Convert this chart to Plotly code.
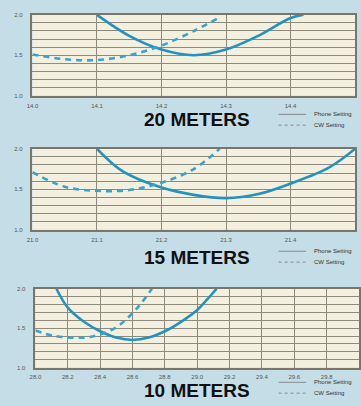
import plotly.graph_objects as go

# ---------------- data ----------------
m20_phone_x = [14.10, 14.15, 14.20, 14.25, 14.30, 14.35, 14.40, 14.42]
m20_phone_y = [2.00, 1.74, 1.57, 1.50, 1.57, 1.74, 1.96, 2.00]
m20_cw_x = [14.00, 14.05, 14.10, 14.15, 14.20, 14.25, 14.29]
m20_cw_y = [1.51, 1.45, 1.44, 1.50, 1.62, 1.80, 1.97]
m20_ticks = [14.0, 14.1, 14.2, 14.3, 14.4, 14.5]
m20_ticktext = ["14.0", "14.1", "14.2", "14.3", "14.4", "14.5"]

m15_phone_x = [21.10, 21.14, 21.20, 21.25, 21.30, 21.35, 21.40, 21.46, 21.50]
m15_phone_y = [2.00, 1.72, 1.52, 1.43, 1.39, 1.44, 1.57, 1.77, 2.00]
m15_cw_x = [21.00, 21.05, 21.10, 21.15, 21.20, 21.25, 21.29]
m15_cw_y = [1.71, 1.53, 1.48, 1.49, 1.58, 1.75, 2.00]
m15_ticks = [21.0, 21.1, 21.2, 21.3, 21.4, 21.5]
m15_ticktext = ["21.0", "21.1", "21.2", "21.3", "21.4", "21.5"]

m10_phone_x = [28.13, 28.20, 28.30, 28.40, 28.50, 28.60, 28.70, 28.80, 28.90, 29.00, 29.06, 29.12]
m10_phone_y = [2.00, 1.76, 1.58, 1.46, 1.38, 1.35, 1.38, 1.46, 1.58, 1.73, 1.86, 2.00]
m10_cw_x = [28.00, 28.12, 28.30, 28.40, 28.50, 28.57, 28.64, 28.72]
m10_cw_y = [1.47, 1.40, 1.38, 1.42, 1.51, 1.63, 1.78, 2.00]
m10_ticks = [28.0, 28.2, 28.4, 28.6, 28.8, 29.0, 29.2, 29.4, 29.6, 29.8, 30.0]
m10_ticktext = ["28.0", "28.2", "28.4", "28.6", "28.8", "29.0", "29.2", "29.4", "29.6", "29.8", "30"]

swr_ticks = [1.0, 1.5, 2.0]
swr_ticktext = ["1.0", "1.5", "2.0"]
titles = ["20 METERS", "15 METERS", "10 METERS"]
legend_names = ["Phone Setting", "CW Setting"]

# ---------------- style ----------------
W, H = 361, 406
BG = "#c4dde7"
PLOT_BG = "#f4f0e0"
GRID = "#8e8a7e"
PHONE_C = "#2492c0"
CW_C = "#3aa2cb"

panels = [
    dict(px=m20_phone_x, py=m20_phone_y, cx=m20_cw_x, cy=m20_cw_y, ticks=m20_ticks, tt=m20_ticktext,
         xd=[27, 356], yd=[12, 94], title_y=118, leg_y=[113, 124]),
    dict(px=m15_phone_x, py=m15_phone_y, cx=m15_cw_x, cy=m15_cw_y, ticks=m15_ticks, tt=m15_ticktext,
         xd=[27, 356], yd=[148, 230], title_y=258, leg_y=[252, 263]),
    dict(px=m10_phone_x, py=m10_phone_y, cx=m10_cw_x, cy=m10_cw_y, ticks=m10_ticks, tt=m10_ticktext,
         xd=[30, 360], yd=[290, 370], title_y=393, leg_y=[385, 396]),
]

fig = go.Figure()
shapes = []
annotations = []
for i, p in enumerate(panels):
    n = "" if i == 0 else str(i + 1)
    xa, ya = "x" + n, "y" + n
    fig.add_trace(go.Scatter(x=p["px"], y=p["py"], mode="lines", xaxis=xa, yaxis=ya,
                             line=dict(color=PHONE_C, width=2.6, shape="spline", smoothing=1.0),
                             showlegend=False, cliponaxis=True))
    fig.add_trace(go.Scatter(x=p["cx"], y=p["cy"], mode="lines", xaxis=xa, yaxis=ya,
                             line=dict(color=CW_C, width=2.6, dash="6px,5px", shape="spline", smoothing=1.0),
                             showlegend=False, cliponaxis=True))
    xdom = [p["xd"][0] / W, p["xd"][1] / W]
    ydom = [1 - p["yd"][1] / H, 1 - p["yd"][0] / H]
    fig.layout["xaxis" + n] = dict(
        domain=xdom, anchor=ya, range=[p["ticks"][0], p["ticks"][-1]],
        tickvals=p["ticks"], ticktext=p["tt"], showgrid=True, gridcolor=GRID, gridwidth=1.2,
        showline=True, mirror=True, linecolor="#7a766c", linewidth=1.5, zeroline=False,
        ticks="", ticklabelstandoff=3, tickfont=dict(size=6, color="#555555", family="Liberation Sans"),
        fixedrange=True,
    )
    fig.layout["yaxis" + n] = dict(
        domain=ydom, anchor=xa, range=[1.0, 2.0],
        tickvals=swr_ticks, ticktext=swr_ticktext, showgrid=True, gridcolor=GRID, gridwidth=1.4,
        minor=dict(dtick=0.1, showgrid=True, gridcolor=GRID, gridwidth=1.4),
        showline=True, mirror=True, linecolor="#7a766c", linewidth=1.5, zeroline=False,
        ticks="", ticklabelstandoff=7, tickfont=dict(size=6, color="#555555", family="Liberation Sans"),
        fixedrange=True,
    )
    annotations.append(dict(text="<b>" + titles[i] + "</b>", x=195 / W, y=1 - p["title_y"] / H,
                            xref="paper", yref="paper", showarrow=False, xanchor="center", yanchor="middle",
                            font=dict(family="Liberation Sans", size=19, color="#111111")))
    # legend key
    for j, name in enumerate(legend_names):
        ly = 1 - p["leg_y"][j] / H
        shapes.append(dict(type="line", xref="paper", yref="paper", x0=278 / W, x1=306 / W, y0=ly, y1=ly,
                           line=dict(color="#8a8a8a", width=1, dash="solid" if j == 0 else "dot")))
        annotations.append(dict(text=name, x=312 / W, y=ly, xref="paper", yref="paper", showarrow=False,
                                xanchor="left", yanchor="middle",
                                font=dict(family="Liberation Sans", size=6, color="#333333")))

fig.update_layout(
    width=W, height=H, margin=dict(l=0, r=0, t=0, b=0),
    paper_bgcolor=BG, plot_bgcolor=PLOT_BG,
    shapes=shapes, annotations=annotations, showlegend=False,
)
fig.write_html("out.html", config={"displayModeBar": False},
               post_script="document.body.style.margin='0';document.body.style.background='" + BG + "';")
